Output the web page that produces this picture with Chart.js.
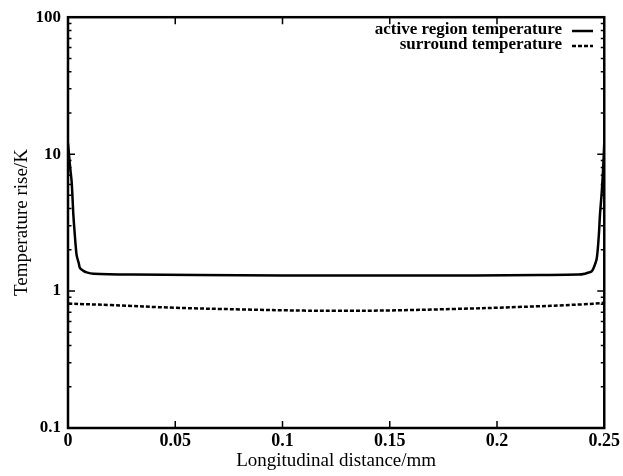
<!DOCTYPE html>
<html>
<head>
<meta charset="utf-8">
<script src="https://cdn.jsdelivr.net/npm/chart.js@4"></script>
<style>
  html, body { margin: 0; padding: 0; background: #fff; }
  canvas { display: block; }
</style>
</head>
<body>
<canvas id="chart" width="623" height="476"></canvas>
<script>
// values
const xActive = [0, 0.001, 0.0017, 0.0025, 0.003, 0.004, 0.005, 0.0056, 0.007, 0.0087, 0.012, 0.03, 0.06, 0.1, 0.125, 0.15, 0.19, 0.22, 0.238, 0.241, 0.243, 0.244, 0.245, 0.2465, 0.2475, 0.248, 0.2488, 0.2495, 0.25];
const yActive = [12, 8, 6.3, 3.6, 2.8, 1.84, 1.6, 1.47, 1.41, 1.37, 1.34, 1.32, 1.31, 1.3, 1.3, 1.3, 1.3, 1.31, 1.32, 1.34, 1.37, 1.39, 1.47, 1.73, 2.6, 3.6, 5.2, 8, 12];
const xSurround = [0, 0.02, 0.05, 0.08, 0.11, 0.125, 0.15, 0.18, 0.21, 0.24, 0.25];
const ySurround = [0.81, 0.79, 0.755, 0.735, 0.72, 0.718, 0.722, 0.74, 0.765, 0.8, 0.82];
const xTicks = [0, 0.05, 0.1, 0.15, 0.2, 0.25];
const xTickLabels = ['0', '0.05', '0.1', '0.15', '0.2', '0.25'];
const yTicks = [0.1, 1, 10, 100];
const yTickLabels = ['0.1', '1', '10', '100'];
const seriesNames = ['active region temperature', 'surround temperature'];

const serif = '"Liberation Serif", "DejaVu Serif", serif';

const toPoints = (xs, ys) => xs.map((v, i) => ({ x: v, y: ys[i] }));

const framePlugin = {
  id: 'frame',
  afterDraw(chart) {
    const { ctx, chartArea: a, scales: { x, y } } = chart;
    ctx.save();
    ctx.strokeStyle = '#000';
    ctx.fillStyle = '#000';

    // ticks, pointing inward
    ctx.lineWidth = 1.5;
    ctx.beginPath();
    xTicks.forEach((v) => {
      const px = x.getPixelForValue(v);
      ctx.moveTo(px, a.bottom); ctx.lineTo(px, a.bottom - 7);
      ctx.moveTo(px, a.top); ctx.lineTo(px, a.top + 7);
    });
    yTicks.forEach((d, k) => {
      const py = y.getPixelForValue(d);
      ctx.moveTo(a.left, py); ctx.lineTo(a.left + 7, py);
      ctx.moveTo(a.right, py); ctx.lineTo(a.right - 7, py);
      if (k < yTicks.length - 1) {
        for (let m = 2; m < 10; m++) {
          const pm = y.getPixelForValue(d * m);
          ctx.moveTo(a.left, pm); ctx.lineTo(a.left + 3.5, pm);
          ctx.moveTo(a.right, pm); ctx.lineTo(a.right - 3.5, pm);
        }
      }
    });
    ctx.stroke();

    // frame
    ctx.lineWidth = 2.5;
    ctx.strokeRect(a.left, a.top, a.right - a.left, a.bottom - a.top);

    // axis titles
    ctx.font = '19px ' + serif;
    ctx.textAlign = 'center';
    ctx.textBaseline = 'middle';
    ctx.fillText('Longitudinal distance/mm', (a.left + a.right) / 2, 461);
    ctx.save();
    ctx.translate(22, (a.top + a.bottom) / 2);
    ctx.rotate(-Math.PI / 2);
    ctx.fillText('Temperature rise/K', 0, 0);
    ctx.restore();

    // legend
    const rows = [30, 45];
    ctx.font = 'bold 17px ' + serif;
    ctx.textAlign = 'right';
    chart.data.datasets.forEach((ds, i) => {
      ctx.fillText(seriesNames[i], 562, rows[i]);
      ctx.beginPath();
      ctx.lineWidth = ds.borderWidth;
      ctx.setLineDash(ds.borderDash || []);
      ctx.moveTo(572, rows[i] + 1);
      ctx.lineTo(593, rows[i] + 1);
      ctx.stroke();
      ctx.setLineDash([]);
    });
    ctx.restore();
  }
};

new Chart(document.getElementById('chart'), {
  type: 'scatter',
  data: {
    datasets: [
      {
        label: seriesNames[0],
        data: toPoints(xActive, yActive),
        showLine: true,
        borderColor: '#000',
        borderWidth: 2.5,
        pointRadius: 0,
        tension: 0.3
      },
      {
        label: seriesNames[1],
        data: toPoints(xSurround, ySurround),
        showLine: true,
        borderColor: '#000',
        borderWidth: 2.5,
        borderDash: [4, 2],
        pointRadius: 0,
        tension: 0.4
      }
    ]
  },
  options: {
    responsive: false,
    animation: false,
    layout: { padding: { top: 14, right: 17, left: 0, bottom: 0 } },
    plugins: {
      legend: { display: false },
      tooltip: { enabled: false }
    },
    scales: {
      x: {
        type: 'linear',
        min: 0,
        max: 0.25,
        afterBuildTicks(scale) {
          scale.ticks = xTicks.map((v) => ({ value: v }));
        },
        afterFit(scale) {
          scale.height = 48;
        },
        ticks: {
          autoSkip: false,
          maxRotation: 0,
          padding: 3,
          color: '#000',
          font: { family: serif, size: 18, weight: 'bold' },
          callback(value) {
            const i = xTicks.findIndex((t) => Math.abs(t - value) < 1e-9);
            return i >= 0 ? xTickLabels[i] : '';
          }
        },
        grid: { display: false, drawTicks: false, tickLength: 0 },
        border: { display: false }
      },
      y: {
        type: 'logarithmic',
        min: 0.1,
        max: 100,
        afterBuildTicks(scale) {
          scale.ticks = yTicks.map((v) => ({ value: v }));
        },
        afterFit(scale) {
          scale.width = 68;
        },
        ticks: {
          autoSkip: false,
          padding: 7,
          color: '#000',
          font: { family: serif, size: 17, weight: 'bold' },
          callback(value) {
            const i = yTicks.findIndex((t) => Math.abs(t - value) < 1e-9);
            return i >= 0 ? yTickLabels[i] : '';
          }
        },
        grid: { display: false, drawTicks: false, tickLength: 0 },
        border: { display: false }
      }
    }
  },
  plugins: [framePlugin]
});
</script>
</body>
</html>
